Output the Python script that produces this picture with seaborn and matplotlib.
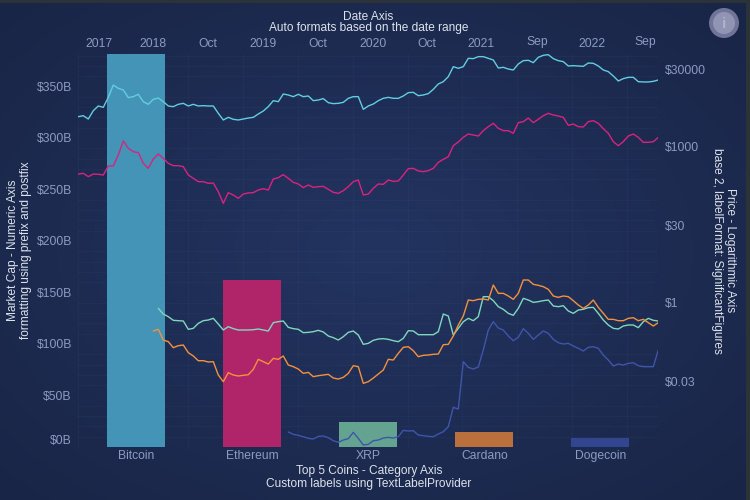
import numpy as np
import pandas as pd
import matplotlib
matplotlib.use("Agg")
import matplotlib.pyplot as plt
from matplotlib.patches import Circle
import seaborn as sns

sns.set_theme(style="dark")
plt.rcParams["font.family"] = ["Liberation Sans", "DejaVu Sans"]

coins = ["Bitcoin", "Ethereum", "XRP", "Cardano", "Dogecoin"]
market_caps = [381.5, 162, 24, 14.5, 8.5]
cap_ticks = [0, 50, 100, 150, 200, 250, 300, 350]
price_ticks = [0.03, 1, 30, 1000, 30000]
price_labels = ["$0.03", "$1", "$30", "$1000", "$30000"]
date_tick_labels = ["2017", "2018", "Oct", "2019", "Oct", "2020", "Oct", "2021", "Sep", "2022", "Sep"]
date_ticks = ["2017-07-06", "2018-01-01", "2018-07-02", "2019-01-01", "2019-07-02", "2020-01-01",
              "2020-06-28", "2020-12-24", "2021-06-28", "2021-12-27", "2022-06-21"]

# log10 of price
btc_log = [3.571,3.590,3.526,3.686,3.776,3.750,3.942,4.179,4.115,4.083,3.936,3.955,4.000,3.859,3.808,3.904,3.929,3.859,3.776,3.763,
3.808,3.827,3.776,3.808,3.776,3.782,3.776,3.776,3.635,3.507,3.558,3.520,3.507,3.526,3.545,3.558,3.622,3.680,3.763,3.878,
3.859,4.006,3.987,3.955,4.000,3.955,3.968,3.878,3.891,3.917,3.840,3.821,3.827,3.846,3.923,3.955,3.955,3.712,3.776,3.814,
3.878,3.923,3.942,3.923,3.923,3.968,4.032,4.038,3.974,3.987,4.013,4.096,4.198,4.243,4.339,4.531,4.499,4.531,4.691,4.685,
4.723,4.723,4.691,4.659,4.505,4.518,4.486,4.467,4.582,4.646,4.653,4.608,4.710,4.749,4.761,4.685,4.646,4.627,4.544,4.550,
4.544,4.537,4.601,4.595,4.544,4.467,4.435,4.352,4.256,4.301,4.326,4.326,4.243,4.237,4.237,4.249,4.275]
eth_log = [2.470,2.483,2.419,2.470,2.464,2.451,2.624,2.624,2.835,3.104,2.963,2.899,2.880,2.675,2.579,2.758,2.854,2.771,2.675,2.630,
2.630,2.611,2.451,2.387,2.323,2.323,2.291,2.297,2.131,1.907,2.112,2.067,2.003,2.086,2.106,2.112,2.163,2.189,2.163,2.374,
2.400,2.458,2.387,2.310,2.278,2.208,2.259,2.214,2.227,2.233,2.176,2.118,2.099,2.150,2.227,2.323,2.355,2.067,2.086,2.195,
2.278,2.272,2.355,2.329,2.336,2.451,2.573,2.579,2.528,2.515,2.534,2.579,2.694,2.752,2.803,3.014,3.085,3.174,3.238,3.219,
3.200,3.302,3.379,3.443,3.347,3.302,3.302,3.251,3.456,3.475,3.545,3.456,3.520,3.590,3.635,3.603,3.584,3.558,3.405,3.430,
3.379,3.373,3.475,3.494,3.443,3.341,3.251,3.091,3.014,3.091,3.200,3.238,3.174,3.078,3.078,3.091,3.174]
xrp_log = [-0.109,-0.218,-0.269,-0.339,-0.346,-0.352,-0.512,-0.493,-0.397,-0.346,-0.333,-0.301,-0.410,-0.525,-0.461,-0.499,-0.525,-0.525,-0.525,-0.519,
-0.506,-0.525,-0.544,-0.384,-0.365,-0.352,-0.474,-0.499,-0.512,-0.576,-0.570,-0.557,-0.531,-0.563,-0.640,-0.672,-0.717,-0.653,-0.570,-0.544,
-0.621,-0.800,-0.781,-0.723,-0.698,-0.691,-0.704,-0.730,-0.749,-0.685,-0.538,-0.544,-0.615,-0.615,-0.615,-0.615,-0.557,-0.218,-0.256,-0.621,
-0.493,-0.365,-0.301,-0.346,-0.269,0.115,0.115,0.038,-0.077,-0.128,-0.205,-0.243,-0.109,0.083,0.051,0.006,0.019,0.038,0.051,-0.064,
-0.077,-0.058,-0.160,-0.205,-0.141,-0.128,-0.096,-0.090,-0.205,-0.333,-0.429,-0.493,-0.506,-0.448,-0.429,-0.429,-0.480,-0.365,-0.301,-0.339,-0.352]
ada_log = [-0.544,-0.512,-0.717,-0.749,-0.864,-0.826,-0.813,-0.960,-1.024,-1.114,-1.114,-1.139,-1.133,-1.389,-1.517,-1.344,-1.389,-1.408,-1.395,-1.383,
-1.280,-1.088,-1.133,-1.178,-1.069,-1.088,-1.024,-1.197,-1.229,-1.274,-1.357,-1.338,-1.421,-1.402,-1.389,-1.376,-1.447,-1.466,-1.434,-1.357,
-1.210,-1.229,-1.549,-1.517,-1.447,-1.370,-1.293,-1.088,-1.101,-0.973,-0.858,-0.845,-0.922,-1.037,-1.011,-1.005,-0.992,-0.986,-0.807,-0.800,
-0.640,-0.429,-0.256,0.051,0.038,0.064,0.070,0.051,0.339,0.179,0.179,0.128,0.064,0.179,0.435,0.435,0.352,0.333,0.307,0.256,
0.128,0.102,0.128,0.115,0.038,-0.045,-0.109,-0.045,0.051,-0.090,-0.205,-0.320,-0.320,-0.346,-0.346,-0.301,-0.288,-0.346,-0.320,-0.384,-0.448,-0.384]
doge_log = [-2.483,-2.528,-2.547,-2.573,-2.605,-2.618,-2.567,-2.560,-2.592,-2.650,-2.682,-2.637,-2.611,-2.490,-2.605,-2.733,-2.720,-2.650,
-2.637,-2.599,-2.586,-2.599,-2.573,-2.451,-2.464,-2.458,-2.541,-2.554,-2.567,-2.573,-2.522,-2.477,-2.381,-2.010,-2.042,-1.133,-1.242,-1.274,-1.235,-0.909,
-0.525,-0.365,-0.487,-0.525,-0.640,-0.730,-0.666,-0.499,-0.589,-0.704,-0.621,-0.544,-0.589,-0.704,-0.768,-0.794,-0.781,-0.832,-0.877,-0.928,
-0.858,-0.845,-0.877,-1.005,-1.101,-1.216,-1.178,-1.197,-1.165,-1.152,-1.210,-1.229,-1.229,-1.229,-0.909]

bar_colors = ["#4394B6", "#B0246A", "#64A390", "#B9703C", "#34458F"]
line_colors = ["#62CDE0", "#D9237F", "#7FD8BE", "#F4913C", "#3F55AB"]
TICK = "#8C9BC2"
TITLE = "#DDE2EA"

W, H = 750, 500
L, R, T, B = 78.3, 658.3, 54, 447
fig = plt.figure(figsize=(7.5, 5), dpi=100)

# page background: radial glow with a thin frame
bg = fig.add_axes([0, 0, 1, 1], zorder=0)
yy, xx = np.mgrid[0:H, 0:W]
rr = np.hypot((xx - 375) / 375, (yy - 250) / 250) / np.sqrt(2)
c0, c1 = np.array([0x23, 0x34, 0x61]) / 255, np.array([0x19, 0x25, 0x46]) / 255
img = c0 + (c1 - c0) * rr[..., None]
frame = np.array([0x2B, 0x32, 0x38]) / 255
img[:3, :] = frame
img[:, 746:] = frame
bg.imshow(img, aspect="auto", extent=(0, W, H, 0))
bg.axis("off")

rect = [L / W, 1 - B / H, (R - L) / W, (B - T) / H]

# category / market cap axes
ax = fig.add_axes(rect, zorder=1, facecolor="none")
caps = pd.DataFrame({"coin": coins, "cap": market_caps})
sns.barplot(data=caps, x="coin", y="cap", hue="coin", palette=bar_colors, width=0.5,
            dodge=False, saturation=1, legend=False, ax=ax, zorder=3, linewidth=0, edgecolor="none")
ax.set_xlim(-0.5, 4.5)
ax.set_ylim(0, 381.5)
ax.set_yticks(cap_ticks)
ax.set_yticklabels([f"${v}B" for v in cap_ticks])
ax.set_xlabel("")
ax.set_ylabel("")
ax.tick_params(axis="x", colors=TICK, labelsize=8.7, length=0, pad=2.5)
ax.tick_params(axis="y", colors=TICK, labelsize=8.7, length=0, pad=4.7)
ax.get_yticklabels()[0].set_va("bottom")
for s in ax.spines.values():
    s.set_visible(False)
ax.set_xticks(np.arange(-0.5, 4.5, 0.473), minor=True)
ax.set_yticks(np.arange(0, 381, 10), minor=True)
ax.tick_params(which="minor", length=0)
ax.set_axisbelow(True)
ax.grid(False)
ax.grid(which="minor", color="#5A76B4", alpha=0.08, lw=0.6)

# date / price axes
ax2 = fig.add_axes(rect, zorder=2, facecolor="none")
dates = pd.date_range("2017-04-28", periods=117, freq=pd.Timedelta(hours=398))
for vals, col in zip([btc_log, eth_log, xrp_log, ada_log, doge_log], line_colors):
    d = pd.DataFrame({"date": dates[-len(vals):], "price": 10 ** np.array(vals)})
    sns.lineplot(data=d, x="date", y="price", color=col, lw=1.0, estimator=None, ax=ax2)
ax2.set_yscale("log")
ax2.set_xlim(dates[0], dates[-1])
ax2.set_ylim(10 ** -2.771, 10 ** 4.774)
ax2.xaxis.tick_top()
ax2.yaxis.tick_right()
ax2.set_xticks(pd.to_datetime(date_ticks))
ax2.set_xticklabels(date_tick_labels)
ax2.set_yticks(price_ticks)
ax2.set_yticklabels(price_labels)
ax2.minorticks_off()
ax2.set_xlabel("")
ax2.set_ylabel("")
ax2.tick_params(axis="x", colors=TICK, labelsize=8.7, length=0, pad=3)
ax2.tick_params(axis="y", colors=TICK, labelsize=8.7, length=0, pad=4.8)
for tick, lab in zip(ax2.xaxis.get_major_ticks(), date_tick_labels):
    if lab == "Sep":
        tick.set_pad(4.5)
for s in ax2.spines.values():
    s.set_visible(False)
ax2.grid(False)


def put(x, y, s, **kw):
    fig.text(x / W, 1 - y / H, s, color=TITLE, fontsize=8.6, ha="center", va="center", **kw)


put(368, 17, "Date Axis")
put(368.5, 28, "Auto formats based on the date range")
put(369, 471, "Top 5 Coins - Category Axis")
put(369, 484, "Custom labels using TextLabelProvider")
put(13.5, 250, "Market Cap - Numeric Axis", rotation=90)
put(26.5, 250, "formatting using prefix and postfix", rotation=90)
put(730, 250.5, "Price - Logarithmic Axis", rotation=270)
put(717, 251, "base 2, labelFormat: SignificantFigures", rotation=270)

# info button
ov = fig.add_axes([709 / W, 1 - 38 / H, 30 / W, 30 / H], zorder=6, facecolor="none")
ov.set_xlim(-15, 15)
ov.set_ylim(-15, 15)
ov.axis("off")
ov.add_patch(Circle((0, 0), 15, color="#6F7498", lw=0))
ov.add_patch(Circle((0, 0), 11, color="#9195B3", lw=0))
ov.text(0, -0.5, "i", color="#B0B3C8", fontsize=11, fontweight="bold", ha="center", va="center")

fig.savefig("out.png", dpi=100)
